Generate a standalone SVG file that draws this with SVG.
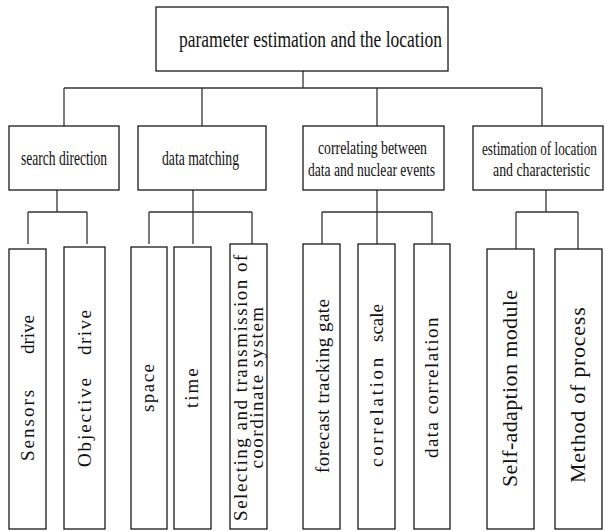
<svg xmlns="http://www.w3.org/2000/svg" width="605" height="531" viewBox="0 0 605 531">
<style>
rect.b{fill:#fff;stroke:#1a1a1a;stroke-width:1.3}
#connectors line{stroke:#333;stroke-width:1.3}
text{font-family:"Liberation Serif","Times New Roman",serif;fill:#111}
.h{font-size:21px}
.h2{font-size:19px}
.v{font-size:19px}
.v2{font-size:22px}
</style>
<rect width="605" height="531" fill="#fff"/>
<g id="connectors">
<line x1="303" y1="71" x2="303" y2="88"/>
<line x1="64" y1="88" x2="542" y2="88"/>
<line x1="64" y1="88" x2="64" y2="126"/>
<line x1="202" y1="88" x2="202" y2="126"/>
<line x1="377" y1="88" x2="377" y2="126"/>
<line x1="542" y1="88" x2="542" y2="126"/>
<line x1="57" y1="190" x2="57" y2="212"/>
<line x1="193" y1="190" x2="193" y2="212"/>
<line x1="377" y1="190" x2="377" y2="212"/>
<line x1="546" y1="190" x2="546" y2="212"/>
<line x1="28" y1="212" x2="87" y2="212"/>
<line x1="149" y1="212" x2="252" y2="212"/>
<line x1="322" y1="212" x2="432" y2="212"/>
<line x1="516" y1="212" x2="578" y2="212"/>
<line x1="28" y1="212" x2="28" y2="244"/>
<line x1="87" y1="212" x2="87" y2="244"/>
<line x1="149" y1="212" x2="149" y2="244"/>
<line x1="193" y1="212" x2="193" y2="244"/>
<line x1="252" y1="212" x2="252" y2="244"/>
<line x1="322" y1="212" x2="322" y2="244"/>
<line x1="377" y1="212" x2="377" y2="244"/>
<line x1="432" y1="212" x2="432" y2="244"/>
<line x1="516" y1="212" x2="516" y2="249"/>
<line x1="578" y1="212" x2="578" y2="249"/>
</g>
<g id="root">
<rect class="b" x="156" y="7" width="292" height="64"/>
<text x="179" y="47" font-size="24" textLength="263" lengthAdjust="spacingAndGlyphs">parameter estimation and the location</text>
</g>
<g id="search-direction">
<rect class="b" x="9" y="126" width="110" height="64"/>
<text class="h" x="21" y="165" textLength="86" lengthAdjust="spacingAndGlyphs">search direction</text>
</g>
<g id="data-matching">
<rect class="b" x="138" y="126" width="128" height="64"/>
<text class="h" x="162" y="165" textLength="77" lengthAdjust="spacingAndGlyphs">data matching</text>
</g>
<g id="correlating">
<rect class="b" x="303" y="126" width="141" height="64"/>
<text class="h2"><tspan x="318" y="154" textLength="109" lengthAdjust="spacingAndGlyphs">correlating between</tspan><tspan x="308" y="176" textLength="127" lengthAdjust="spacingAndGlyphs">data and nuclear events</tspan></text>
</g>
<g id="estimation">
<rect class="b" x="473" y="126" width="130" height="64"/>
<text class="h2" transform="translate(482,155) scale(0.694,1)">estimation of location</text>
<text class="h2" transform="translate(493,176) scale(0.727,1)">and characteristic</text>
</g>
<g id="sensors-drive">
<rect class="b" x="9" y="249" width="37" height="280"/>
<text class="v" transform="translate(34,461) rotate(-90)"><tspan x="0" y="0" letter-spacing="2">Sensors</tspan><tspan x="107" y="0">drive</tspan></text>
</g>
<g id="objective-drive">
<rect class="b" x="64" y="247" width="41" height="282"/>
<text class="v" transform="translate(91,467) rotate(-90)"><tspan x="0" y="0" letter-spacing="1.9">Objective</tspan><tspan x="112" y="0" letter-spacing="1.5">drive</tspan></text>
</g>
<g id="space">
<rect class="b" x="131" y="247" width="36" height="282"/>
<text class="v" letter-spacing="1.45" transform="translate(154,412) rotate(-90)">space</text>
</g>
<g id="time">
<rect class="b" x="174" y="247" width="37" height="282"/>
<text class="v" letter-spacing="2" transform="translate(198,408) rotate(-90)">time</text>
</g>
<g id="coordinate">
<rect class="b" x="230" y="244" width="37" height="285"/>
<text class="v" letter-spacing="1.5" text-anchor="middle" transform="translate(0,387) rotate(-90)"><tspan x="0" y="247">Selecting and transmission of</tspan><tspan x="0" y="263">coordinate system</tspan></text>
</g>
<g id="forecast">
<rect class="b" x="303" y="244" width="37" height="285"/>
<text class="v" letter-spacing="0.5" transform="translate(329,473) rotate(-90)">forecast tracking gate</text>
</g>
<g id="correlation-scale">
<rect class="b" x="358" y="244" width="37" height="285"/>
<text class="v" transform="translate(383,467) rotate(-90)"><tspan x="0" y="0" letter-spacing="2.7">correlation</tspan><tspan x="125" y="0">scale</tspan></text>
</g>
<g id="data-correlation">
<rect class="b" x="414" y="244" width="36" height="285"/>
<text class="v" letter-spacing="1.45" transform="translate(438,458) rotate(-90)">data correlation</text>
</g>
<g id="self-adaption">
<rect class="b" x="487" y="249" width="47" height="280"/>
<text class="v2" letter-spacing="0.37" transform="translate(517,487) rotate(-90)">Self-adaption module</text>
</g>
<g id="method">
<rect class="b" x="555" y="249" width="47" height="280"/>
<text class="v2" letter-spacing="0.75" transform="translate(585,483) rotate(-90)">Method of process</text>
</g>
</svg>
